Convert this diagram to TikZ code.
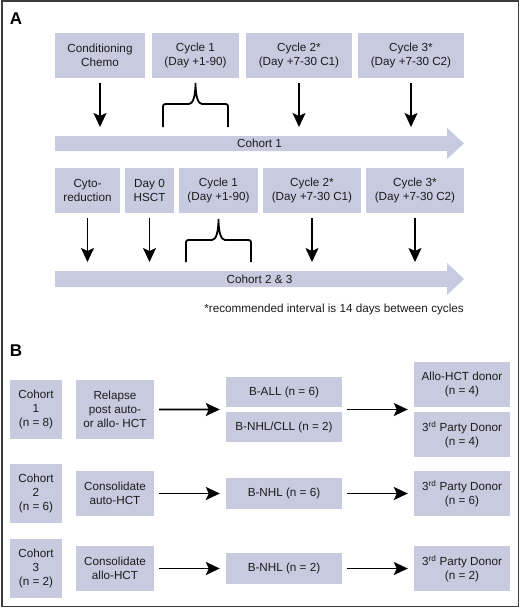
\documentclass[tikz,border=0pt]{standalone}
\usepackage{fontspec}
\setmainfont{Liberation Sans}
\usetikzlibrary{arrows.meta,calc}
\definecolor{boxc}{RGB}{200,202,224}
\definecolor{txt}{RGB}{28,28,28}
\definecolor{framec}{RGB}{60,60,60}
\begin{document}
\begin{tikzpicture}[x=1pt,y=-1pt,
  box/.style={fill=boxc,draw=none,text=txt,align=center,inner sep=0pt,
    font=\fontsize{11.7}{14}\selectfont},
  arr/.style={line width=1.8pt,-{Stealth[length=14pt,width=13pt,inset=3pt]}},
  brc/.style={line width=1.8pt},
  bar/.style={fill=boxc,draw=none},
  lbl/.style={text=txt,font=\fontsize{11.7}{14}\selectfont,inner sep=0pt},
  panel/.style={font=\fontsize{17}{17}\bfseries\selectfont,text=black,inner sep=0pt}]
\useasboundingbox (0,0) rectangle (520,608);
\fill[white] (0,0) rectangle (520,608);
\draw[framec,line width=1.5pt] (2,1) rectangle (518.5,606.5);

% ---------------- Panel A
\node[panel] (pA) at (16,19) {A};
% row 1
\node[box,minimum width=90pt,minimum height=45pt] (cond) at (100,55.5) {Conditioning\\Chemo};
\node[box,minimum width=87pt,minimum height=45pt] (c1a) at (195.5,55.5) {Cycle 1\\(Day +1-90)};
\node[box,minimum width=106pt,minimum height=45pt] (c2a) at (299,55.5) {Cycle 2*\\(Day +7-30 C1)};
\node[box,minimum width=106pt,minimum height=45pt] (c3a) at (411,55.5) {Cycle 3*\\(Day +7-30 C2)};
% cohort 1 bar
\fill[bar] (55,136) -- (447,136) -- (447,128) -- (464,143.5) -- (447,159) -- (447,151) -- (55,151) -- cycle;
\node[lbl] (coh1lbl) at (259.5,143.5) {Cohort 1};
\coordinate (ta1) at (100,127);
\coordinate (ta3) at (299,127);
\coordinate (ta4) at (411,127);
\draw[arr] ([yshift=-5pt]cond.south) -- (ta1);
\draw[arr] ([yshift=-5pt]c2a.south) -- (ta3);
\draw[arr] ([yshift=-5pt]c3a.south) -- (ta4);
% brace 1
\draw[brc] (163,127) -- (163,109) .. controls (163,104) .. (168,104) -- (189,104)
  .. controls (193,104) and (195.5,96) .. (195.5,83)
  .. controls (195.5,96) and (198,104) .. (202,104) -- (223,104)
  .. controls (228,104) .. (228,109) -- (228,127);

% row 2
\node[box,minimum width=65pt,minimum height=45pt] (cyto) at (87.5,190.5) {Cyto-\\reduction};
\node[box,minimum width=49pt,minimum height=45pt] (day0) at (149.5,190.5) {Day 0\\HSCT};
\node[box,minimum width=79pt,minimum height=45pt] (c1b) at (218.5,190.5) {Cycle 1\\(Day +1-90)};
\node[box,minimum width=98pt,minimum height=45pt] (c2b) at (312,190.5) {Cycle 2*\\(Day +7-30 C1)};
\node[box,minimum width=98pt,minimum height=45pt] (c3b) at (415,190.5) {Cycle 3*\\(Day +7-30 C2)};
\fill[bar] (55,271) -- (447,271) -- (447,263) -- (464,279) -- (447,295) -- (447,287) -- (55,287) -- cycle;
\node[lbl] (coh23lbl) at (259.5,279) {Cohort 2 \& 3};
\coordinate (tb1) at (87.5,262);
\coordinate (tb2) at (149.5,262);
\coordinate (tb4) at (312,262);
\coordinate (tb5) at (415,262);
\draw[arr] ([yshift=-5pt]cyto.south) -- (tb1);
\draw[arr] ([yshift=-5pt]day0.south) -- (tb2);
\draw[arr] ([yshift=-5pt]c2b.south) -- (tb4);
\draw[arr] ([yshift=-5pt]c3b.south) -- (tb5);
% brace 2
\draw[brc] (186,262) -- (186,245) .. controls (186,240) .. (191,240) -- (212,240)
  .. controls (216,240) and (218.5,232) .. (218.5,219)
  .. controls (218.5,232) and (221,240) .. (225,240) -- (246,240)
  .. controls (251,240) .. (251,245) -- (251,262);
\node[lbl,anchor=east] (foot) at (464,309.5) {*recommended interval is 14 days between cycles};

% ---------------- Panel B
\node[panel] (pB) at (16,351) {B};
% row 1
\node[box,minimum width=52pt,minimum height=59pt] (coh1) at (36,409.5) {Cohort\\1\\(n = 8)};
\node[box,minimum width=78pt,minimum height=59pt] (rel) at (115,409.5) {Relapse\\post auto-\\or allo- HCT};
\node[box,minimum width=116pt,minimum height=30pt] (ball) at (284,392) {B-ALL (n = 6)};
\node[box,minimum width=116pt,minimum height=30pt] (bnhl) at (284,427) {B-NHL/CLL (n = 2)};
\node[box,minimum width=96pt,minimum height=45pt] (allo) at (462,384.5) {Allo-HCT donor\\(n = 4)};
\node[box,minimum width=96pt,minimum height=45pt] (p1) at (462,434.5) {3\textsuperscript{rd} Party Donor\\(n = 4)};
\coordinate (m1l) at ($(ball.south west)!0.5!(bnhl.north west)$);
\coordinate (m1r) at ($(ball.south east)!0.5!(bnhl.north east)$);
\coordinate (m1d) at ($(allo.south west)!0.5!(p1.north west)$);
\draw[arr] ([xshift=5pt]rel.east) -- ([xshift=-6pt]m1l);
\draw[arr] ([xshift=5pt]m1r) -- ([xshift=-6pt]m1d);
% row 2
\node[box,minimum width=52pt,minimum height=59pt] (coh2) at (36,493.5) {Cohort\\2\\(n = 6)};
\node[box,minimum width=78pt,minimum height=45pt] (con2) at (115,493.5) {Consolidate\\auto-HCT};
\node[box,minimum width=116pt,minimum height=31pt] (bnhl6) at (284,493.5) {B-NHL (n = 6)};
\node[box,minimum width=96pt,minimum height=45pt] (p2) at (462,493.5) {3\textsuperscript{rd} Party Donor\\(n = 6)};
\draw[arr] ([xshift=5pt]con2.east) -- ([xshift=-6pt]bnhl6.west);
\draw[arr] ([xshift=5pt]bnhl6.east) -- ([xshift=-6pt]p2.west);
% row 3
\node[box,minimum width=52pt,minimum height=59pt] (coh3) at (36,568.5) {Cohort\\3\\(n = 2)};
\node[box,minimum width=78pt,minimum height=45pt] (con3) at (115,568.5) {Consolidate\\allo-HCT};
\node[box,minimum width=116pt,minimum height=31pt] (bnhl2) at (284,568.5) {B-NHL (n = 2)};
\node[box,minimum width=96pt,minimum height=45pt] (p3) at (462,568.5) {3\textsuperscript{rd} Party Donor\\(n = 2)};
\draw[arr] ([xshift=5pt]con3.east) -- ([xshift=-6pt]bnhl2.west);
\draw[arr] ([xshift=5pt]bnhl2.east) -- ([xshift=-6pt]p3.west);
\end{tikzpicture}
\end{document}
